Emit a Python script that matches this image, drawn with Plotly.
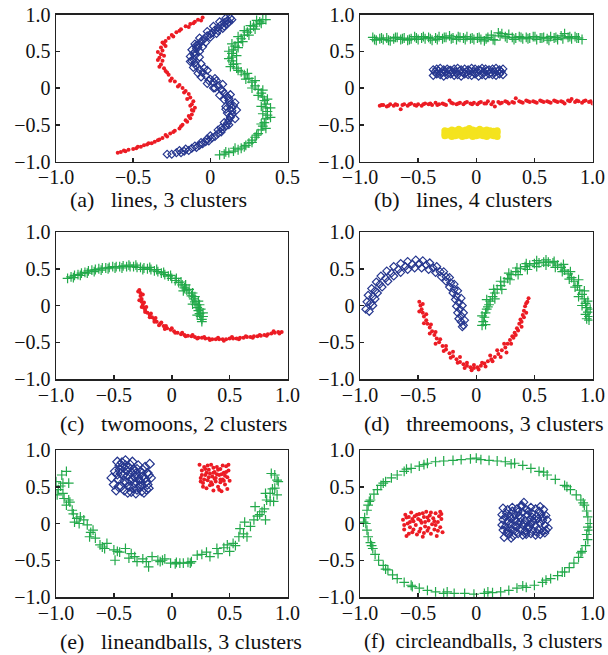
import plotly.graph_objects as go

# ---------------- data ----------------
# (a) lines, 3 clusters
a_red_x = [-0.60,-0.58,-0.55,-0.53,-0.50,-0.48,-0.45,-0.43,-0.41,-0.38,-0.36,-0.33,-0.31,-0.28,-0.26,-0.23,-0.20,-0.18,-0.15,-0.13,-0.12,-0.11,-0.10,-0.12,-0.11,-0.13,-0.14,-0.16,-0.18,-0.20,-0.23,-0.25,-0.27,-0.29,-0.30,-0.32,-0.31,-0.33,-0.32,-0.31,-0.32,-0.30,-0.29,-0.27,-0.25,-0.22,-0.19,-0.16,-0.13,-0.10,-0.08,-0.05,
           -0.56,-0.47,-0.40,-0.34,-0.29,-0.24,-0.19,-0.16,-0.14,-0.12,-0.13,-0.15,-0.17,-0.21,-0.26,-0.28,-0.33,-0.34,-0.30,-0.34,-0.29,-0.31,-0.24,-0.20,-0.14,-0.11,-0.06]
a_red_y = [-0.88,-0.87,-0.86,-0.84,-0.83,-0.82,-0.80,-0.78,-0.77,-0.75,-0.73,-0.70,-0.68,-0.66,-0.62,-0.58,-0.55,-0.50,-0.46,-0.41,-0.36,-0.31,-0.27,-0.22,-0.18,-0.13,-0.08,-0.04,0.00,0.04,0.09,0.13,0.18,0.23,0.27,0.32,0.37,0.41,0.46,0.51,0.55,0.60,0.64,0.68,0.72,0.76,0.80,0.84,0.87,0.90,0.93,0.96,
           -0.85,-0.80,-0.75,-0.71,-0.64,-0.60,-0.52,-0.44,-0.38,-0.30,-0.24,-0.15,-0.06,0.02,0.10,0.21,0.29,0.38,0.44,0.49,0.57,0.62,0.70,0.78,0.83,0.88,0.92]
a_blue_x = [-0.28,-0.25,-0.22,-0.19,-0.17,-0.14,-0.12,-0.09,-0.07,-0.05,-0.03,-0.01,0.01,0.03,0.05,0.07,0.08,0.10,0.11,0.12,0.13,0.14,0.14,0.14,0.13,0.12,0.11,0.09,0.07,0.05,0.02,0.00,-0.03,-0.05,-0.07,-0.09,-0.10,-0.11,-0.10,-0.10,-0.09,-0.08,-0.06,-0.04,-0.02,0.01,0.03,0.05,0.07,0.09,0.11,0.13,
            -0.20,-0.10,-0.02,0.05,0.09,0.16,0.11,0.17,0.10,0.16,0.09,0.13,0.06,0.03,0.08,-0.02,0.03,-0.06,-0.02,-0.11,-0.06,-0.13,-0.07,-0.07,-0.12,-0.05,-0.10,-0.03,-0.07,0.00,-0.02,0.04,0.02,0.08,0.06,0.11,0.10,0.14,
            -0.16,-0.06,0.00,0.07,0.13,0.15,0.12,0.08,0.04,-0.01,-0.08,-0.12,-0.11,-0.08,-0.05,0.00,0.05,0.09,0.12,-0.13,-0.04,0.02,0.10,0.12,-0.09]
a_blue_y = [-0.90,-0.90,-0.88,-0.88,-0.86,-0.85,-0.82,-0.81,-0.78,-0.76,-0.73,-0.72,-0.68,-0.66,-0.62,-0.60,-0.56,-0.52,-0.48,-0.44,-0.40,-0.36,-0.31,-0.27,-0.22,-0.17,-0.12,-0.07,-0.02,0.03,0.08,0.12,0.17,0.21,0.25,0.30,0.34,0.39,0.44,0.49,0.54,0.58,0.63,0.67,0.71,0.75,0.79,0.82,0.86,0.89,0.92,0.95,
            -0.85,-0.79,-0.69,-0.57,-0.47,-0.42,-0.34,-0.30,-0.25,-0.20,-0.16,-0.09,-0.10,0.00,0.05,0.06,0.13,0.15,0.24,0.28,0.33,0.43,0.42,0.50,0.52,0.56,0.60,0.62,0.68,0.69,0.77,0.74,0.84,0.81,0.90,0.87,0.95,0.93,
            -0.83,-0.74,-0.65,-0.54,-0.38,-0.24,-0.14,-0.04,0.10,0.10,0.20,0.37,0.47,0.55,0.65,0.73,0.78,0.84,0.90,0.36,0.27,0.00,-0.29,-0.50,0.58]
a_green_x = [0.06,0.09,0.12,0.15,0.18,0.20,0.23,0.25,0.27,0.29,0.31,0.33,0.34,0.35,0.36,0.37,0.37,0.36,0.36,0.35,0.34,0.33,0.31,0.29,0.27,0.25,0.22,0.20,0.17,0.15,0.14,0.14,0.14,0.15,0.16,0.18,0.20,0.22,0.24,0.26,0.28,0.30,0.32,0.34,
             0.10,0.16,0.22,0.27,0.30,0.36,0.33,0.39,0.34,0.39,0.33,0.37,0.31,0.34,0.27,0.29,0.23,0.24,0.18,0.13,0.17,0.12,0.17,0.12,0.18,0.14,0.21,0.18,0.25,0.22,0.29,0.26,0.33,0.30,0.36]
a_green_y = [-0.91,-0.90,-0.88,-0.86,-0.84,-0.82,-0.78,-0.75,-0.71,-0.67,-0.62,-0.57,-0.52,-0.47,-0.42,-0.37,-0.32,-0.27,-0.22,-0.17,-0.12,-0.07,-0.02,0.03,0.08,0.13,0.18,0.22,0.27,0.32,0.37,0.42,0.47,0.52,0.57,0.62,0.67,0.72,0.76,0.80,0.84,0.87,0.90,0.93,
             -0.87,-0.82,-0.80,-0.74,-0.64,-0.55,-0.49,-0.40,-0.35,-0.27,-0.25,-0.15,-0.10,-0.03,0.00,0.10,0.12,0.20,0.24,0.29,0.33,0.40,0.44,0.50,0.55,0.60,0.63,0.70,0.72,0.78,0.80,0.85,0.88,0.92,0.93]

# (b) lines, 4 clusters
b_green_x = [-0.89,-0.86,-0.83,-0.80,-0.77,-0.74,-0.71,-0.68,-0.65,-0.62,-0.59,-0.56,-0.53,-0.50,-0.47,-0.44,-0.41,-0.38,-0.35,-0.32,-0.29,-0.26,-0.23,-0.20,-0.17,-0.14,-0.11,-0.08,-0.05,-0.02,0.01,0.04,0.07,0.10,0.13,0.16,0.19,0.22,0.25,0.28,0.31,0.34,0.37,0.40,0.43,0.46,0.49,0.52,0.55,0.58,0.61,0.64,0.67,0.70,0.73,0.76,0.79,0.82,0.85,0.88,0.91,
             -0.875,-0.815,-0.755,-0.695,-0.635,-0.575,-0.515,-0.455,-0.395,-0.335,-0.275,-0.215,-0.155,-0.095,-0.035,0.025,0.085,0.145,0.205,0.265,0.325,0.385,0.445,0.505,0.565,0.625,0.685,0.745,0.805,0.865]
b_green_y = [0.69,0.65,0.67,0.66,0.68,0.64,0.67,0.69,0.66,0.68,0.65,0.67,0.70,0.66,0.68,0.67,0.69,0.65,0.68,0.70,0.67,0.69,0.71,0.68,0.66,0.69,0.68,0.70,0.67,0.66,0.68,0.66,0.64,0.69,0.72,0.65,0.75,0.74,0.70,0.73,0.69,0.68,0.70,0.67,0.69,0.68,0.70,0.66,0.68,0.69,0.67,0.70,0.68,0.66,0.71,0.74,0.69,0.67,0.70,0.68,0.66,
             0.66,0.68,0.65,0.69,0.67,0.66,0.68,0.70,0.67,0.66,0.69,0.67,0.70,0.66,0.68,0.69,0.67,0.66,0.71,0.68,0.66,0.69,0.67,0.70,0.68,0.65,0.69,0.67,0.70,0.68]
b_blue_x = [-0.37,-0.34,-0.31,-0.28,-0.25,-0.22,-0.19,-0.16,-0.13,-0.10,-0.07,-0.04,-0.01,0.02,0.05,0.08,0.11,0.14,0.17,0.20,0.23,
            -0.355,-0.325,-0.295,-0.265,-0.235,-0.205,-0.175,-0.145,-0.115,-0.085,-0.055,-0.025,0.005,0.035,0.065,0.095,0.125,0.155,0.185,0.215,
            -0.37,-0.34,-0.31,-0.28,-0.25,-0.22,-0.19,-0.16,-0.13,-0.10,-0.07,-0.04,-0.01,0.02,0.05,0.08,0.11,0.14,0.17,0.20,0.23]
b_blue_y = [0.17,0.19,0.18,0.16,0.18,0.19,0.17,0.18,0.16,0.19,0.18,0.17,0.19,0.16,0.18,0.17,0.19,0.18,0.17,0.19,0.18,
            0.22,0.23,0.21,0.22,0.24,0.21,0.22,0.23,0.21,0.22,0.23,0.22,0.21,0.24,0.22,0.23,0.21,0.22,0.23,0.22,
            0.25,0.26,0.27,0.25,0.26,0.24,0.26,0.27,0.25,0.26,0.25,0.27,0.26,0.25,0.27,0.26,0.25,0.26,0.27,0.25,0.26]
b_red_x = [-0.83,-0.80,-0.77,-0.74,-0.71,-0.68,-0.65,-0.62,-0.59,-0.56,-0.53,-0.50,-0.47,-0.44,-0.41,-0.38,-0.35,-0.32,-0.29,-0.26,-0.23,-0.20,-0.17,-0.14,-0.11,-0.08,-0.05,-0.02,0.01,0.04,0.07,0.10,0.13,0.16,0.19,0.22,0.25,0.28,0.31,0.34,0.37,0.40,0.43,0.46,0.49,0.52,0.55,0.58,0.61,0.64,0.67,0.70,0.73,0.76,0.79,0.82,0.85,0.88,0.91,0.94,0.97,1.00,
           -0.815,-0.755,-0.695,-0.635,-0.575,-0.515,-0.455,-0.395,-0.335,-0.275,-0.215,-0.155,-0.095,-0.035,0.025,0.085,0.145,0.205,0.265,0.325,0.385,0.445,0.505,0.565,0.625,0.685,0.745,0.805,0.865,0.925,0.985]
b_red_y = [-0.24,-0.23,-0.25,-0.22,-0.24,-0.23,-0.29,-0.22,-0.24,-0.21,-0.23,-0.22,-0.24,-0.21,-0.22,-0.23,-0.20,-0.22,-0.21,-0.23,-0.17,-0.21,-0.22,-0.20,-0.22,-0.19,-0.21,-0.20,-0.22,-0.19,-0.21,-0.18,-0.22,-0.25,-0.19,-0.20,-0.18,-0.21,-0.19,-0.14,-0.18,-0.20,-0.17,-0.19,-0.18,-0.20,-0.17,-0.19,-0.18,-0.20,-0.17,-0.19,-0.18,-0.21,-0.17,-0.15,-0.19,-0.18,-0.20,-0.17,-0.19,-0.21,
           -0.23,-0.24,-0.22,-0.23,-0.22,-0.24,-0.22,-0.21,-0.23,-0.22,-0.20,-0.21,-0.20,-0.22,-0.20,-0.21,-0.19,-0.21,-0.19,-0.20,-0.19,-0.18,-0.19,-0.18,-0.19,-0.18,-0.19,-0.18,-0.17,-0.18,-0.18]
b_yellow_x = [-0.27,-0.24,-0.21,-0.18,-0.15,-0.12,-0.09,-0.06,-0.03,0.00,0.03,0.06,0.09,0.12,0.15,0.18,
              -0.27,-0.24,-0.21,-0.18,-0.15,-0.12,-0.09,-0.06,-0.03,0.00,0.03,0.06,0.09,0.12,0.15,0.18,
              -0.27,-0.24,-0.21,-0.18,-0.15,-0.12,-0.09,-0.06,-0.03,0.00,0.03,0.06,0.09,0.12,0.15,0.18]
b_yellow_y = [-0.58,-0.59,-0.57,-0.58,-0.56,-0.58,-0.57,-0.55,-0.57,-0.58,-0.56,-0.58,-0.57,-0.58,-0.59,-0.58,
              -0.62,-0.63,-0.61,-0.62,-0.63,-0.61,-0.62,-0.62,-0.61,-0.63,-0.62,-0.61,-0.62,-0.63,-0.62,-0.61,
              -0.65,-0.64,-0.66,-0.65,-0.64,-0.66,-0.65,-0.64,-0.66,-0.65,-0.64,-0.65,-0.66,-0.64,-0.65,-0.66]

# (c) twomoons, 2 clusters
c_green_x = [-0.90,-0.87,-0.84,-0.81,-0.78,-0.75,-0.72,-0.69,-0.66,-0.63,-0.60,-0.57,-0.54,-0.51,-0.48,-0.45,-0.42,-0.39,-0.36,-0.33,-0.30,-0.27,-0.24,-0.21,-0.18,-0.15,-0.12,-0.09,-0.06,-0.03,0.00,0.03,0.06,0.09,0.11,0.13,0.15,0.17,0.19,0.20,0.21,0.22,0.23,0.24,0.25,0.26,0.26,
             -0.85,-0.79,-0.73,-0.67,-0.61,-0.55,-0.49,-0.43,-0.37,-0.31,-0.25,-0.19,-0.13,-0.07,-0.01,0.04,0.08,0.12,0.15,0.18,0.20,0.23,0.24,0.25,0.27,0.27,0.22,0.18,0.10]
c_green_y = [0.37,0.39,0.41,0.42,0.44,0.45,0.47,0.48,0.49,0.50,0.51,0.51,0.52,0.53,0.53,0.53,0.54,0.53,0.53,0.53,0.52,0.52,0.51,0.50,0.49,0.47,0.46,0.44,0.42,0.40,0.37,0.34,0.31,0.28,0.24,0.21,0.17,0.13,0.09,0.05,0.01,-0.03,-0.07,-0.11,-0.15,-0.19,-0.22,
             0.38,0.41,0.44,0.46,0.48,0.50,0.51,0.51,0.55,0.55,0.49,0.52,0.49,0.45,0.41,0.37,0.32,0.28,0.22,0.17,0.12,0.06,0.01,-0.05,-0.10,-0.15,-0.13,0.02,0.20]
c_red_x = [-0.28,-0.27,-0.27,-0.26,-0.26,-0.25,-0.24,-0.23,-0.21,-0.19,-0.17,-0.15,-0.13,-0.10,-0.07,-0.04,-0.01,0.02,0.05,0.08,0.11,0.14,0.17,0.20,0.23,0.26,0.29,0.32,0.35,0.38,0.41,0.44,0.47,0.50,0.53,0.56,0.59,0.62,0.65,0.68,0.71,0.74,0.77,0.80,0.83,0.86,0.89,0.92,0.95,
           -0.29,-0.25,-0.28,-0.24,-0.26,-0.22,-0.23,-0.18,-0.19,-0.14,-0.15,-0.09,-0.11,-0.05,-0.06,0.00,0.03,0.09,0.12,0.18,0.22,0.28,0.33,0.40,0.45,0.52,0.58,0.64,0.70,0.76,0.82,0.88,0.93]
c_red_y = [0.21,0.17,0.13,0.09,0.05,0.01,-0.03,-0.06,-0.10,-0.13,-0.16,-0.19,-0.22,-0.25,-0.28,-0.31,-0.33,-0.35,-0.37,-0.39,-0.40,-0.41,-0.42,-0.43,-0.44,-0.44,-0.45,-0.45,-0.46,-0.46,-0.46,-0.46,-0.46,-0.45,-0.45,-0.45,-0.44,-0.44,-0.43,-0.43,-0.42,-0.42,-0.41,-0.40,-0.39,-0.38,-0.37,-0.36,-0.36,
           0.19,0.15,0.07,0.04,-0.02,-0.02,-0.09,-0.11,-0.16,-0.17,-0.22,-0.23,-0.27,-0.28,-0.32,-0.31,-0.37,-0.37,-0.42,-0.40,-0.45,-0.43,-0.47,-0.44,-0.48,-0.43,-0.46,-0.42,-0.44,-0.40,-0.41,-0.35,-0.38]

# (d) threemoons, 3 clusters
d_blue_x = [-0.95,-0.94,-0.93,-0.90,-0.86,-0.82,-0.77,-0.71,-0.65,-0.59,-0.52,-0.46,-0.40,-0.34,-0.28,-0.23,-0.19,-0.16,-0.13,-0.12,-0.11,-0.10,-0.11,
            -0.92,-0.91,-0.89,-0.87,-0.83,-0.78,-0.73,-0.67,-0.61,-0.55,-0.49,-0.43,-0.37,-0.31,-0.26,-0.22,-0.19,-0.17,-0.15,-0.14,-0.13,-0.13,-0.12,
            -0.89,-0.87,-0.85,-0.81,-0.76,-0.71,-0.65,-0.59,-0.53,-0.47,-0.41,-0.35,-0.30,-0.26,-0.23,-0.20,-0.18,-0.17,-0.16,-0.15]
d_blue_y = [-0.05,0.05,0.14,0.23,0.32,0.40,0.47,0.53,0.57,0.60,0.62,0.61,0.58,0.53,0.46,0.38,0.29,0.20,0.10,0.00,-0.10,-0.20,-0.27,
            -0.08,0.03,0.12,0.20,0.29,0.37,0.44,0.49,0.53,0.56,0.57,0.55,0.51,0.46,0.39,0.31,0.22,0.13,0.04,-0.05,-0.14,-0.22,-0.29,
            0.00,0.09,0.17,0.25,0.33,0.40,0.45,0.49,0.51,0.51,0.49,0.45,0.39,0.33,0.25,0.17,0.08,-0.01,-0.10,-0.18]
d_red_x = [-0.49,-0.48,-0.47,-0.46,-0.45,-0.43,-0.42,-0.40,-0.38,-0.36,-0.34,-0.32,-0.29,-0.26,-0.23,-0.20,-0.17,-0.14,-0.11,-0.08,-0.05,-0.02,0.01,0.04,0.07,0.10,0.13,0.16,0.19,0.22,0.25,0.27,0.29,0.31,0.33,0.35,0.37,0.38,0.40,0.41,0.42,0.44,0.45,
           -0.46,-0.49,-0.43,-0.45,-0.39,-0.40,-0.35,-0.35,-0.31,-0.28,-0.26,-0.22,-0.20,-0.16,-0.14,-0.10,-0.08,-0.04,-0.02,0.02,0.05,0.08,0.12,0.14,0.18,0.21,0.24,0.26,0.30,0.32,0.34,0.36,0.39,0.39,0.43,0.41,0.43]
d_red_y = [0.05,0.00,-0.05,-0.10,-0.15,-0.20,-0.25,-0.30,-0.35,-0.40,-0.45,-0.50,-0.55,-0.60,-0.65,-0.69,-0.73,-0.77,-0.80,-0.82,-0.84,-0.85,-0.84,-0.82,-0.79,-0.76,-0.73,-0.70,-0.66,-0.61,-0.57,-0.52,-0.47,-0.42,-0.37,-0.31,-0.25,-0.19,-0.13,-0.07,-0.01,0.05,0.10,
           0.02,-0.08,-0.12,-0.24,-0.26,-0.38,-0.36,-0.52,-0.46,-0.62,-0.55,-0.71,-0.63,-0.78,-0.70,-0.85,-0.78,-0.88,-0.81,-0.87,-0.78,-0.83,-0.68,-0.76,-0.61,-0.70,-0.52,-0.64,-0.52,-0.44,-0.40,-0.34,-0.29,-0.22,-0.10,-0.16,0.03]
d_green_x = [0.05,0.06,0.07,0.08,0.09,0.11,0.12,0.14,0.16,0.18,0.21,0.24,0.27,0.30,0.34,0.38,0.42,0.46,0.50,0.54,0.58,0.62,0.66,0.70,0.73,0.76,0.79,0.82,0.84,0.87,0.89,0.91,0.93,0.94,0.95,0.96,0.97,0.97,
             0.08,0.05,0.10,0.09,0.16,0.15,0.22,0.21,0.29,0.28,0.36,0.35,0.44,0.43,0.52,0.52,0.60,0.60,0.68,0.67,0.74,0.75,0.80,0.81,0.85,0.88,0.88,0.93,0.91,0.96,0.94,0.98,0.95]
d_green_y = [-0.27,-0.22,-0.16,-0.10,-0.05,0.01,0.06,0.12,0.17,0.22,0.27,0.32,0.37,0.42,0.46,0.50,0.53,0.55,0.57,0.58,0.59,0.59,0.58,0.55,0.52,0.48,0.43,0.38,0.33,0.27,0.21,0.15,0.09,0.03,-0.03,-0.09,-0.15,-0.20,
             -0.26,-0.14,-0.02,0.08,0.09,0.22,0.22,0.33,0.35,0.44,0.42,0.51,0.49,0.57,0.53,0.61,0.55,0.62,0.52,0.60,0.46,0.56,0.36,0.46,0.25,0.35,0.12,0.20,0.00,0.06,-0.12,-0.05,-0.18]

# (e) lineandballs, 3 clusters
e_green_x = [-1.00,-0.95,-0.91,-0.94,-0.89,-0.98,-0.94,-0.99,-0.89,-0.91,-0.86,-0.96,-0.88,-0.85,-0.82,-0.79,-0.76,-0.84,-0.73,-0.68,-0.71,-0.66,-0.62,-0.56,-0.58,-0.50,-0.49,-0.45,-0.40,-0.37,-0.35,-0.30,-0.32,-0.22,-0.20,-0.17,-0.10,-0.06,-0.01,0.03,0.07,0.14,0.17,0.22,0.30,0.33,0.39,0.40,0.48,0.50,0.53,0.58,0.59,0.65,0.63,0.68,0.71,0.72,0.76,0.78,0.81,0.81,0.82,0.85,0.88,0.86,0.89,0.91,0.92,0.89,0.91,0.85,
             -0.70,-0.60,-0.47,-0.25,-0.12,0.10,0.26,0.45,0.55,0.62,0.74,0.80,0.87,-0.93,-0.80,0.16,0.04,-0.08]
e_green_y = [0.57,0.66,0.71,0.55,0.55,0.46,0.41,0.39,0.32,0.25,0.18,0.51,0.29,0.13,0.07,0.09,0.05,0.02,-0.02,-0.09,-0.18,-0.20,-0.29,-0.27,-0.34,-0.36,-0.50,-0.39,-0.34,-0.47,-0.41,-0.52,-0.45,-0.52,-0.59,-0.45,-0.52,-0.48,-0.54,-0.55,-0.54,-0.53,-0.52,-0.43,-0.39,-0.45,-0.34,-0.41,-0.29,-0.38,-0.27,-0.18,-0.07,-0.18,0.02,-0.04,0.05,0.23,0.12,0.16,0.05,0.41,0.32,0.30,0.30,0.68,0.66,0.59,0.57,0.48,0.39,0.41,
             -0.12,-0.32,-0.38,-0.48,-0.50,-0.54,-0.42,-0.33,-0.30,-0.14,0.10,0.20,0.47,0.34,0.00,-0.54,-0.53,-0.50]
e_blue_x = [-0.52,-0.49,-0.47,-0.45,-0.44,-0.42,-0.41,-0.40,-0.39,-0.38,-0.37,-0.36,-0.35,-0.34,-0.33,-0.32,-0.31,-0.30,-0.29,-0.28,-0.27,-0.26,-0.25,-0.24,-0.23,-0.22,-0.21,-0.20,-0.19,-0.18,
            -0.50,-0.48,-0.46,-0.44,-0.43,-0.41,-0.39,-0.37,-0.35,-0.33,-0.31,-0.30,-0.28,-0.26,-0.25,-0.23,-0.21,-0.20,-0.42,-0.45,-0.36,-0.29,-0.38,-0.34,-0.47,-0.40,-0.27,-0.22,-0.46,-0.32]
e_blue_y = [0.62,0.71,0.84,0.79,0.68,0.76,0.58,0.86,0.72,0.65,0.50,0.80,0.43,0.61,0.74,0.55,0.68,0.46,0.79,0.59,0.70,0.52,0.64,0.42,0.77,0.57,0.69,0.48,0.81,0.62,
            0.53,0.45,0.60,0.50,0.83,0.45,0.56,0.76,0.69,0.48,0.41,0.74,0.51,0.44,0.73,0.61,0.53,0.66,0.66,0.73,0.58,0.63,0.42,0.84,0.67,0.79,0.57,0.46,0.50,0.63]
e_red_x = [0.24,0.26,0.25,0.27,0.28,0.29,0.30,0.31,0.32,0.33,0.34,0.35,0.36,0.37,0.38,0.39,0.40,0.41,0.42,0.43,0.44,0.45,0.46,0.47,0.48,0.49,0.50,0.26,0.28,0.30,0.32,0.34,0.36,0.38,0.40,0.42,0.44,0.46,0.48,0.27,0.33,0.39,0.45,0.29,0.35,0.41,0.47,0.31,0.37,0.43,0.49,0.25,0.36,0.42]
e_red_y = [0.80,0.72,0.62,0.55,0.77,0.66,0.48,0.59,0.73,0.52,0.80,0.64,0.45,0.70,0.57,0.77,0.50,0.66,0.74,0.44,0.60,0.69,0.53,0.78,0.63,0.72,0.58,0.66,0.60,0.69,0.63,0.56,0.76,0.62,0.73,0.56,0.79,0.65,0.47,0.50,0.68,0.67,0.58,0.74,0.53,0.46,0.70,0.79,0.61,0.67,0.80,0.57,0.69,0.60]

# (f) circleandballs, 3 clusters
f_green_x = [-0.95,-0.94,-0.91,-0.85,-0.78,-0.68,-0.56,-0.42,-0.28,-0.13,0.04,0.18,0.33,0.47,0.61,0.76,0.86,0.93,0.96,0.97,0.96,0.91,0.84,0.76,0.64,0.50,0.35,0.21,0.07,-0.10,-0.28,-0.42,-0.56,-0.68,-0.76,-0.84,-0.89,-0.93,
             -0.96,-0.93,-0.88,-0.82,-0.73,-0.62,-0.49,-0.35,-0.20,-0.05,0.11,0.25,0.40,0.54,0.68,0.81,0.90,0.95,0.98,0.95,0.94,0.88,0.80,0.70,0.57,0.43,0.28,0.14,-0.02,-0.19,-0.35,-0.49,-0.62,-0.72,-0.80,-0.87,-0.91,-0.94,
             -0.97,-0.92,-0.80,-0.60,-0.45,0.00,0.30,0.58,0.78,0.92,0.96,0.90,0.74,0.60,0.40,0.10,-0.25,-0.55,-0.78,-0.90]
f_green_y = [0.00,0.18,0.32,0.46,0.57,0.66,0.75,0.82,0.85,0.87,0.87,0.85,0.82,0.75,0.66,0.52,0.39,0.25,0.09,-0.09,-0.22,-0.38,-0.54,-0.66,-0.75,-0.84,-0.88,-0.93,-0.95,-0.95,-0.95,-0.91,-0.84,-0.75,-0.63,-0.50,-0.34,-0.18,
             0.08,0.25,0.40,0.52,0.62,0.71,0.78,0.84,0.86,0.88,0.86,0.84,0.79,0.71,0.60,0.46,0.32,0.17,0.00,-0.15,-0.30,-0.46,-0.60,-0.71,-0.80,-0.87,-0.91,-0.94,-0.96,-0.95,-0.93,-0.88,-0.80,-0.70,-0.57,-0.42,-0.26,-0.09,
             0.02,0.30,0.55,0.74,0.80,0.89,0.81,0.70,0.50,0.28,-0.05,-0.40,-0.66,-0.77,-0.85,-0.93,-0.93,-0.86,-0.62,-0.30]
f_red_x = [-0.63,-0.62,-0.61,-0.60,-0.59,-0.58,-0.57,-0.56,-0.55,-0.54,-0.53,-0.52,-0.51,-0.50,-0.49,-0.48,-0.47,-0.46,-0.45,-0.44,-0.43,-0.42,-0.41,-0.40,-0.39,-0.38,-0.37,-0.36,-0.35,-0.34,-0.33,-0.32,-0.31,-0.30,-0.29,
           -0.60,-0.57,-0.54,-0.51,-0.48,-0.45,-0.42,-0.39,-0.36,-0.33,-0.30,-0.62,-0.55,-0.46,-0.41,-0.35,-0.31,-0.58,-0.49,-0.44]
f_red_y = [0.05,-0.08,0.12,-0.17,0.00,0.09,-0.05,0.15,-0.12,0.03,0.10,-0.02,-0.15,0.06,0.13,-0.07,0.01,-0.18,0.09,-0.04,0.16,-0.10,0.04,0.11,-0.14,-0.01,0.07,-0.08,0.14,-0.17,0.02,0.10,-0.05,0.06,-0.12,
           0.08,0.02,-0.08,0.12,0.04,-0.13,0.08,0.15,0.03,-0.10,0.13,-0.02,0.06,0.14,-0.06,-0.02,0.16,-0.14,-0.11,0.02]
f_blue_x = [0.23,0.27,0.31,0.35,0.39,0.41,0.43,0.47,0.51,0.55,0.58,
            0.22,0.26,0.29,0.33,0.37,0.40,0.44,0.48,0.52,0.56,0.60,
            0.23,0.27,0.30,0.34,0.38,0.42,0.46,0.49,0.53,0.57,0.61,
            0.22,0.25,0.29,0.33,0.36,0.40,0.44,0.47,0.51,0.55,0.59,
            0.23,0.27,0.31,0.34,0.38,0.42,0.45,0.49,0.53,0.57,0.60,
            0.24,0.28,0.32,0.36,0.40,0.43,0.47,0.51,0.55,0.59,
            0.25,0.31,0.36,0.45,0.50,0.54,0.28,0.35,0.41,0.46,0.52,0.38,0.32,0.48,0.57,0.43,0.26,0.62,0.39,0.30]
f_blue_y = [0.21,0.19,0.22,0.20,0.23,0.29,0.19,0.22,0.20,0.23,0.19,
            0.12,0.14,0.10,0.13,0.11,0.15,0.12,0.14,0.10,0.13,0.11,
            0.05,0.03,0.06,0.04,0.07,0.04,0.06,0.03,0.06,0.04,0.05,
            -0.02,-0.04,-0.01,-0.03,0.00,-0.02,-0.04,-0.01,-0.03,0.00,-0.02,
            -0.09,-0.10,-0.08,-0.11,-0.09,-0.10,-0.07,-0.10,-0.08,-0.11,-0.09,
            -0.19,-0.15,-0.17,-0.14,-0.16,-0.15,-0.14,-0.16,-0.15,-0.13,
            0.09,0.17,0.16,0.17,0.07,0.17,-0.06,-0.05,0.00,-0.05,-0.12,0.02,0.09,0.09,0.08,-0.12,-0.13,-0.06,0.25,-0.20]

tick_vals = [-1, -0.5, 0, 0.5, 1]
tick_text = ["\u22121.0", "\u22120.5", "0", "0.5", "1.0"]
captions = [
    "(a)\u00a0\u00a0\u00a0lines, 3 clusters",
    "(b)\u00a0\u00a0\u00a0lines, 4 clusters",
    "(c)\u00a0\u00a0\u00a0twomoons, 2 clusters",
    "(d)\u00a0\u00a0\u00a0threemoons, 3 clusters",
    "(e)\u00a0\u00a0\u00a0lineandballs, 3 clusters",
    "(f)\u00a0\u00a0circleandballs, 3 clusters",
]

# ---------------- style ----------------
RED = "#EC1C24"
BLUE = "#26378F"
GREEN = "#22A94A"
YELLOW = "#F4E31E"
FONT = "Liberation Serif"

def red(x, y):
    return dict(x=x, y=y, mode="markers", marker=dict(symbol="circle", size=4, color=RED, line=dict(width=0)))

def blue(x, y, size=6):
    return dict(x=x, y=y, mode="markers", marker=dict(symbol="diamond-open", size=size, color=BLUE, line=dict(width=1.2, color=BLUE)))

def green(x, y):
    return dict(x=x, y=y, mode="markers", marker=dict(symbol="cross-thin-open", size=7, color=GREEN, line=dict(width=1.2, color=GREEN)))

def yellow(x, y):
    return dict(x=x, y=y, mode="markers", marker=dict(symbol="circle", size=7, color=YELLOW, line=dict(width=0)))

panels = [
    [red(a_red_x, a_red_y), blue(a_blue_x, a_blue_y), green(a_green_x, a_green_y)],
    [green(b_green_x, b_green_y), blue(b_blue_x, b_blue_y), red(b_red_x, b_red_y), yellow(b_yellow_x, b_yellow_y)],
    [green(c_green_x, c_green_y), red(c_red_x, c_red_y)],
    [blue(d_blue_x, d_blue_y), red(d_red_x, d_red_y), green(d_green_x, d_green_y)],
    [green(e_green_x, e_green_y), blue(e_blue_x, e_blue_y, 7), red(e_red_x, e_red_y)],
    [green(f_green_x, f_green_y), red(f_red_x, f_red_y), blue(f_blue_x, f_blue_y)],
]

W, H = 608, 655
col_px = [(56, 287.5), (360, 592.5)]
row_px = [(14.5, 161.5), (232, 379), (450, 597)]
cap_y_px = [199, 423, 641]
cap_x_px = [68, 372, 58, 362, 58, 362]
cap_size = [22, 22, 22, 22, 22, 21]

fig = go.Figure()
layout = dict(width=W, height=H, margin=dict(l=0, r=0, t=0, b=0, autoexpand=False),
              paper_bgcolor="white", plot_bgcolor="white", showlegend=False,
              font=dict(family=FONT, color="#111"))
annotations = []
for i, traces in enumerate(panels):
    r, c = divmod(i, 2)
    n = i + 1
    xa = "x" if n == 1 else f"x{n}"
    ya = "y" if n == 1 else f"y{n}"
    for t in traces:
        fig.add_trace(go.Scatter(xaxis=xa, yaxis=ya, hoverinfo="skip", **t))
    xr = [-1, 0.5] if i == 0 else [-1, 1]
    xv = [v for v in tick_vals if v <= xr[1]]
    xt = [tick_text[tick_vals.index(v)] for v in xv]
    common = dict(showgrid=False, zeroline=False, showline=True, mirror=True,
                  linecolor="#222", linewidth=1.5, ticks="inside", ticklen=4,
                  tickwidth=1.5, tickcolor="#222", automargin=False,
                  ticklabeloverflow="allow",
                  tickfont=dict(family=FONT, size=20, color="#111"))
    layout[f"xaxis{'' if n == 1 else n}"] = dict(
        domain=[col_px[c][0] / W, col_px[c][1] / W], range=xr,
        anchor=ya, tickvals=xv, ticktext=xt, ticklabelstandoff=-3, **common)
    layout[f"yaxis{'' if n == 1 else n}"] = dict(
        domain=[1 - row_px[r][1] / H, 1 - row_px[r][0] / H], range=[-1, 1],
        anchor=xa, tickvals=tick_vals, ticktext=tick_text, **common)
    annotations.append(dict(text=captions[i], xref="paper", yref="paper",
                            x=cap_x_px[i] / W, y=1 - cap_y_px[r] / H,
                            xanchor="left", yanchor="middle", showarrow=False,
                            font=dict(family=FONT, size=cap_size[i], color="#111")))
layout["annotations"] = annotations
fig.update_layout(**layout)
# remove the browser's default 8px body margin so the figure sits at the window corner
fig.write_html("out.html", config={"displayModeBar": False, "staticPlot": True},
               post_script="document.body.style.margin='0px';document.body.style.overflow='hidden';")
